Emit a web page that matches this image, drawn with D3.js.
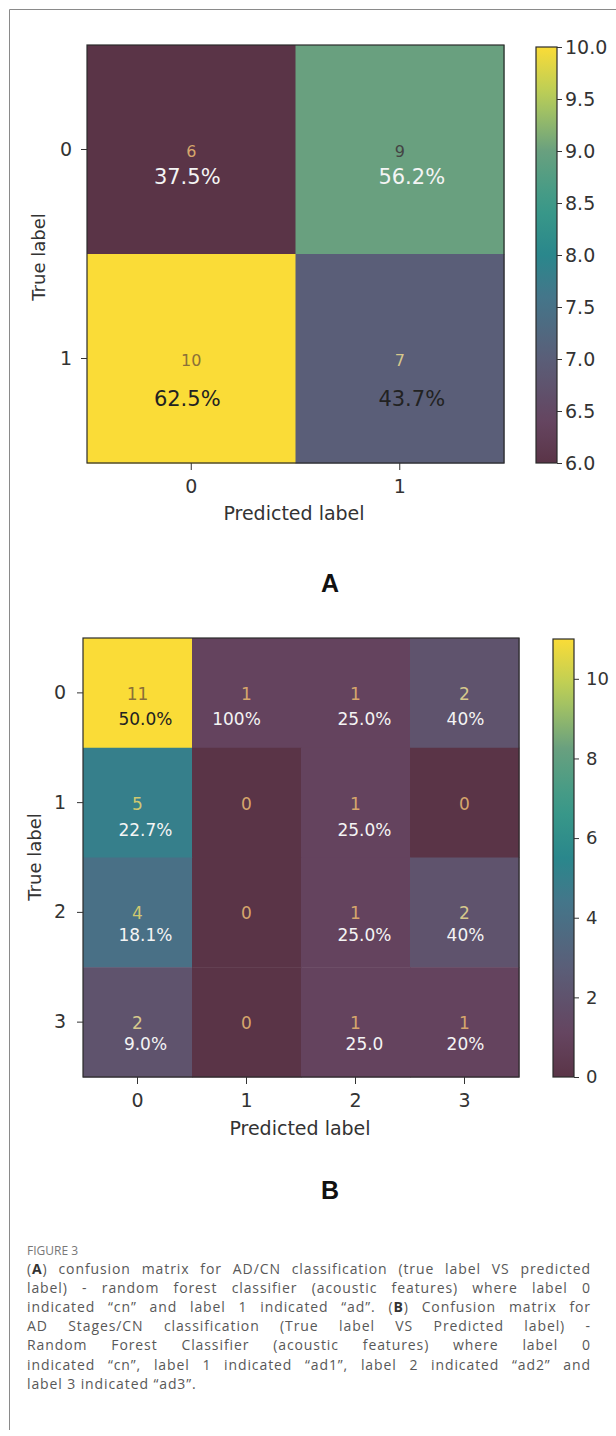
<!DOCTYPE html>
<html>
<head>
<meta charset="utf-8">
<script src="https://cdn.jsdelivr.net/npm/d3@7"></script>
<style>
body { margin: 0; background: #fff; }
text { font-family: "DejaVu Sans", sans-serif; }
.cap { font-family: "Open Sans", sans-serif; font-size: 14px; letter-spacing: 0.9px; fill: #585858; }
</style>
</head>
<body>
<div id="fig"></div>
<script>
// panel A: AD / CN
var labelsA = ["0", "1"];
var countsA = [[6, 9], [10, 7]];
var pctA = [["37.5%", "56.2%"], ["62.5%", "43.7%"]];
var cbTicksA = [6.0, 6.5, 7.0, 7.5, 8.0, 8.5, 9.0, 9.5, 10.0];

// panel B: AD stages / CN
var labelsB = ["0", "1", "2", "3"];
var countsB = [[11, 1, 1, 2], [5, 0, 1, 0], [4, 0, 1, 2], [2, 0, 1, 1]];
var pctB = [["50.0%", "100%", "25.0%", "40%"],
            ["22.7%", "", "25.0%", ""],
            ["18.1%", "", "25.0%", "40%"],
            ["9.0%", "", "25.0", "20%"]];
var cbTicksB = [0, 2, 4, 6, 8, 10];

var captionHead = "FIGURE 3";
var captionLines = [
  "(A) confusion matrix for AD/CN classification (true label VS predicted",
  "label) - random forest classifier (acoustic features) where label 0",
  "indicated \u201ccn\u201d and label 1 indicated \u201cad\u201d. (B) Confusion matrix for",
  "AD Stages/CN classification (True label VS Predicted label) -",
  "Random Forest Classifier (acoustic features) where label 0",
  "indicated \u201ccn\u201d, label 1 indicated \u201cad1\u201d, label 2 indicated \u201cad2\u201d and",
  "label 3 indicated \u201cad3\u201d."
];

var svg = d3.select("#fig").append("svg")
  .attr("width", 616)
  .attr("height", 1436);

// figure frame (top + left only, right side is off the page)
svg.append("path")
  .attr("d", "M616,9.5H9.5V1430")
  .attr("fill", "none")
  .attr("stroke", "#8a8a8a");

// washed-out viridis as it appears in the scan
var ramp = d3.scaleLinear()
  .domain([0, 0.1, 0.25, 0.4, 0.5, 0.62, 0.75, 0.88, 1])
  .range(["#5a3447", "#654560", "#5a5e78", "#44768a", "#2a878c", "#3b9a88", "#69a07f", "#b4cc5a", "#fadc37"])
  .interpolate(d3.interpolateRgb)
  .clamp(true);

function countColor(t) {
  if (t > 0.9) return "#8a7038";
  if (t > 0.6) return "#444";
  if (t > 0.3) return "#d0c870";
  if (t > 0.15) return "#d6c88c";
  return "#d6a66c";
}

function panel(o) {
  var g = svg.append("g");
  var x = d3.scaleBand().domain(o.labels).range([o.left, o.right]);
  var y = d3.scaleBand().domain(o.labels).range([o.top, o.bottom]);
  var norm = d3.scaleLinear().domain(o.vdom).range([0, 1]);

  var cells = [];
  o.counts.forEach(function(row, i) {
    row.forEach(function(v, j) {
      cells.push({i: i, j: j, v: v, p: o.pct[i][j]});
    });
  });

  g.selectAll("rect.cell")
    .data(cells)
    .enter()
    .append("rect")
    .attr("class", "cell")
    .attr("x", function(d) { return x(o.labels[d.j]); })
    .attr("y", function(d) { return y(o.labels[d.i]); })
    .attr("width", x.bandwidth() + 0.5)
    .attr("height", y.bandwidth() + 0.5)
    .attr("fill", function(d) { return ramp(norm(d.v)); });

  g.append("rect")
    .attr("x", o.left).attr("y", o.top)
    .attr("width", o.right - o.left).attr("height", o.bottom - o.top)
    .attr("fill", "none").attr("stroke", "#2b2b2b").attr("stroke-width", 1.2);

  // counts
  g.selectAll("text.count")
    .data(cells)
    .enter()
    .append("text")
    .attr("class", "count")
    .attr("x", function(d) { return x(o.labels[d.j]) + x.bandwidth() / 2; })
    .attr("y", function(d) { return y(o.labels[d.i]) + y.bandwidth() / 2 + o.countDy; })
    .attr("dy", "0.36em")
    .attr("text-anchor", "middle")
    .style("font-size", o.countSize + "px")
    .attr("fill", function(d) { return countColor(norm(d.v)); })
    .text(function(d) { return d.v; });

  // percentages
  g.selectAll("text.pct")
    .data(cells.filter(function(d) { return d.p !== ""; }))
    .enter()
    .append("text")
    .attr("class", "pct")
    .attr("x", function(d) { return x(o.labels[d.j]) + x.bandwidth() / 2 + o.pctDx[d.j]; })
    .attr("y", function(d) { return y(o.labels[d.i]) + y.bandwidth() / 2 + o.pctDy[d.i]; })
    .attr("dy", "0.36em")
    .attr("text-anchor", "middle")
    .style("font-size", o.pctSize + "px")
    .attr("fill", function(d) { return o.darkPct.indexOf(d.i + "," + d.j) >= 0 ? "#222" : "#f4f4f4"; })
    .text(function(d) { return d.p; });

  // axes
  var ax = g.append("g")
    .attr("transform", "translate(0," + o.bottom + ")")
    .call(d3.axisBottom(x).tickSize(7).tickPadding(o.xPad));
  var ay = g.append("g")
    .attr("transform", "translate(" + o.left + ",0)")
    .call(d3.axisLeft(y).tickSize(6).tickPadding(o.yPad));
  [ax, ay].forEach(function(a) {
    a.select(".domain").remove();
    a.selectAll("line").attr("stroke", "#333");
    a.selectAll("text").style("font-size", "19px").attr("fill", "#333");
  });

  g.append("text")
    .attr("x", o.predX).attr("y", o.predY).attr("dy", "0.36em")
    .attr("text-anchor", "middle")
    .style("font-size", "19px").attr("fill", "#333")
    .text("Predicted label");

  g.append("text")
    .attr("transform", "translate(" + o.trueX + "," + o.trueY + ") rotate(-90)")
    .attr("dy", "0.36em")
    .attr("text-anchor", "middle")
    .style("font-size", "18px").attr("fill", "#333")
    .text("True label");

  g.append("text")
    .attr("x", o.letterX).attr("y", o.letterY).attr("dy", "0.36em")
    .attr("text-anchor", "middle")
    .style("font-family", "'Liberation Sans', Arial, sans-serif")
    .style("font-size", "25px").style("font-weight", "bold").attr("fill", "#111")
    .text(o.letter);

  // colour bar
  var cy = d3.scaleLinear().domain(o.vdom).range([o.cbBottom, o.cbTop]);
  var grad = svg.append("defs").append("linearGradient")
    .attr("id", "grad" + o.letter)
    .attr("x1", 0).attr("y1", 1).attr("x2", 0).attr("y2", 0);
  grad.selectAll("stop")
    .data(d3.range(0, 1.0001, 0.05))
    .enter()
    .append("stop")
    .attr("offset", function(d) { return d; })
    .attr("stop-color", function(d) { return ramp(d); });

  g.append("rect")
    .attr("x", o.cbX).attr("y", o.cbTop)
    .attr("width", o.cbW).attr("height", o.cbBottom - o.cbTop)
    .attr("fill", "url(#grad" + o.letter + ")")
    .attr("stroke", "#2b2b2b").attr("stroke-width", 1.2);

  var ac = g.append("g")
    .attr("transform", "translate(" + (o.cbX + o.cbW) + ",0)")
    .call(d3.axisRight(cy).tickValues(o.cbTicks).tickFormat(d3.format(o.cbFmt)).tickSize(5).tickPadding(o.cbPad));
  ac.select(".domain").remove();
  ac.selectAll("line").attr("stroke", "#333");
  ac.selectAll("text").style("font-size", o.cbSize + "px").attr("fill", "#333");
}

panel({
  letter: "A", labels: labelsA, counts: countsA, pct: pctA, vdom: [6, 10],
  left: 87, right: 504, top: 45, bottom: 463,
  countDy: 2, countSize: 16, pctSize: 21, pctDy: [27, 40], pctDx: [-4, 12],
  darkPct: ["1,0", "1,1"],
  xPad: 10, yPad: 9,
  predX: 294, predY: 513, trueX: 39, trueY: 257, letterX: 330, letterY: 583,
  cbX: 536, cbW: 21, cbTop: 47, cbBottom: 463, cbTicks: cbTicksA, cbFmt: ".1f", cbPad: 3, cbSize: 19
});

panel({
  letter: "B", labels: labelsB, counts: countsB, pct: pctB, vdom: [0, 11],
  left: 83, right: 519, top: 638, bottom: 1077,
  countDy: 1, countSize: 17, pctSize: 17, pctDy: [26, 27, 23, 22], pctDx: [8, -10, 9, 1],
  darkPct: ["0,0"],
  xPad: 10, yPad: 11,
  predX: 300, predY: 1128, trueX: 35, trueY: 857, letterX: 330, letterY: 1190,
  cbX: 553, cbW: 21, cbTop: 639, cbBottom: 1077, cbTicks: cbTicksB, cbFmt: "d", cbPad: 7, cbSize: 18
});

// caption
svg.append("text")
  .attr("x", 27).attr("y", 1255)
  .style("font-family", "'Open Sans', sans-serif")
  .style("font-size", "12px").attr("fill", "#777")
  .text(captionHead);

var capY0 = 1274, capLH = 19.1, capL = 27, capR = 591;
captionLines.forEach(function(line, k) {
  var words = line.split(" ");
  var yy = capY0 + k * capLH;
  var nodes = words.map(function(w) {
    var t = svg.append("text").attr("class", "cap").attr("y", yy);
    var m = w.match(/^\((A|B)\)(.*)$/);
    if (m) {
      t.append("tspan").text("(");
      t.append("tspan").style("font-weight", "700").attr("fill", "#333").text(m[1]);
      t.append("tspan").text(")" + m[2]);
    } else {
      t.text(w);
    }
    return t;
  });
  var widths = nodes.map(function(n) { return n.node().getComputedTextLength(); });
  var last = k === captionLines.length - 1;
  var gap = last ? 4.5 : (capR - capL - d3.sum(widths)) / (words.length - 1);
  var xx = capL;
  nodes.forEach(function(n, idx) {
    n.attr("x", xx);
    xx += widths[idx] + gap;
  });
});
</script>
</body>
</html>
